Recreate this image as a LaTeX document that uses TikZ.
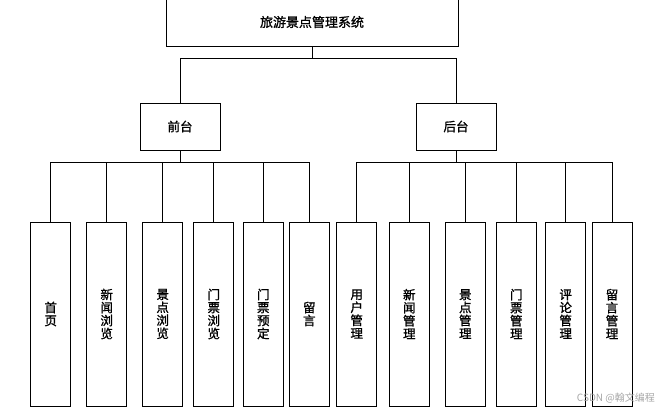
\documentclass[tikz,border=0pt]{standalone}
\usepackage{fontspec}
\newfontfamily\cjk{Noto Sans CJK SC}[FakeBold=1.2]
\newfontfamily\cjklight{Noto Sans CJK SC}
\usetikzlibrary{positioning}
\tikzset{
  font=\cjk,
  sysbox/.style ={draw, line width=0.8pt, minimum width=292pt, minimum height=48pt, font=\cjk\fontsize{13}{15}\selectfont},
  part/.style   ={draw, line width=0.8pt, minimum width=80pt, minimum height=47pt, font=\cjk\fontsize{12.5}{14}\selectfont},
  leaf/.style   ={draw, line width=0.8pt, minimum width=40pt, minimum height=184pt, align=center, inner sep=0pt, font=\cjk\fontsize{12.5}{13}\selectfont},
  link/.style   ={draw, line width=0.8pt},
  wmark/.style  ={font=\cjklight\fontsize{10}{11}\selectfont, text=black!35, anchor=east, inner sep=0pt},
}

\begin{document}
\begin{tikzpicture}[x=1pt, y=-1pt]
  \useasboundingbox (0,0) rectangle (661,412);

  \node[sysbox] (sys) at (312,22) {旅游景点管理系统};
  \node[part] (qt) at (180,126.5) {前台};
  \node[part] (ht) at (456,126.5) {后台};

  \coordinate (topbus) at (0,58);
  \coordinate (qtbus) at (0,162.5);
  \coordinate (htbus) at (0,162.5);

  % front end modules
  \foreach \i/\x/\txt in {1/50.7/{首\\页}, 2/106.7/{新\\闻\\浏\\览}, 3/162.7/{景\\点\\浏\\览},
                          4/213.8/{门\\票\\浏\\览}, 5/263.3/{门\\票\\预\\定}, 6/309.3/{留\\言}}
    \node[leaf] (l\i) at (\x,314) {\txt};

  % back end modules
  \foreach \i/\x/\txt in {1/356.7/{用\\户\\管\\理}, 2/409.3/{新\\闻\\管\\理}, 3/465.3/{景\\点\\管\\理},
                          4/516.3/{门\\票\\管\\理}, 5/565.7/{评\\论\\管\\理}, 6/612/{留\\言\\管\\理}}
    \node[leaf] (r\i) at (\x,314) {\txt};

  \draw[link] (sys.south) -- (sys.south |- topbus) -| (qt.north);
  \draw[link] (sys.south) -- (sys.south |- topbus) -| (ht.north);
  \foreach \i in {1,...,6} {
    \draw[link] (qt.south) -- (qt.south |- qtbus) -| (l\i.north);
    \draw[link] (ht.south) -- (ht.south |- htbus) -| (r\i.north);
  }

  \node[wmark] (wm) at (655,398) {CSDN @翰文编程};
\end{tikzpicture}
\end{document}
